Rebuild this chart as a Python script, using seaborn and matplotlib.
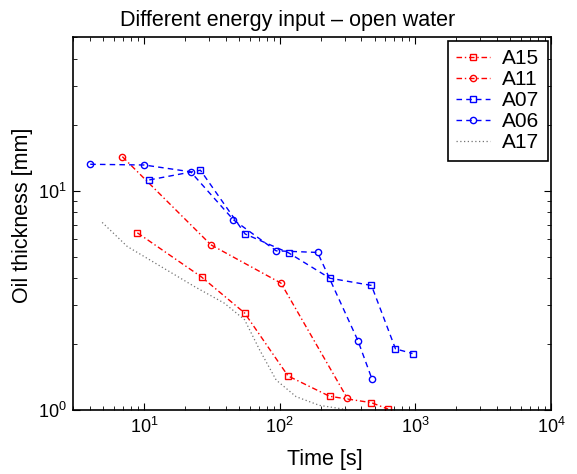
import numpy as np
import pandas as pd
import matplotlib
matplotlib.use("Agg")
import matplotlib.pyplot as plt
import seaborn as sns
from matplotlib.ticker import LogLocator

sns.set_style("ticks")
plt.rcParams['font.family'] = ['Liberation Sans', 'DejaVu Sans']
plt.rcParams['mathtext.default'] = 'regular'
plt.rcParams['text.color'] = 'black'
plt.rcParams['axes.labelcolor'] = 'black'
plt.rcParams['xtick.color'] = 'black'
plt.rcParams['ytick.color'] = 'black'

# Data
a15_t = [8.9, 26.5, 55, 115, 233, 474, 628]
a15_h = [6.43, 4.04, 2.77, 1.43, 1.155, 1.08, 1.01]
a11_t = [6.9, 31, 102, 315]
a11_h = [14.3, 5.67, 3.79, 1.13]
a07_t = [10.9, 26, 55.5, 116, 234, 474, 713, 952]
a07_h = [11.2, 12.4, 6.35, 5.21, 3.99, 3.70, 1.90, 1.81]
a06_t = [4.0, 10, 22, 45.5, 94, 190, 377, 479]
a06_h = [13.2, 13.1, 12.2, 7.37, 5.32, 5.23, 2.07, 1.38]
a17_t = [4.9, 7.5, 13.3, 23.4, 39, 55, 71, 94, 132, 196, 327]
a17_h = [7.17, 5.57, 4.51, 3.66, 3.07, 2.58, 1.88, 1.37, 1.15, 1.05, 1.0]

labels = ["A15", "A11", "A07", "A06", "A17"]
title = "Different energy input \u2013 open water"

fig = plt.figure(figsize=(5.77, 4.74), dpi=100)
ax = fig.add_axes([0.127, 0.135, 0.828, 0.786])

series = [
    (a15_t, a15_h, labels[0], "red", (0, (4, 2, 1, 2)), "s"),
    (a11_t, a11_h, labels[1], "red", (0, (4, 2, 1, 2)), "o"),
    (a07_t, a07_h, labels[2], "blue", (0, (4, 3)), "s"),
    (a06_t, a06_h, labels[3], "blue", (0, (4, 3)), "o"),
]
for t, h, lab, col, ls, mk in series:
    sns.lineplot(x=t, y=h, ax=ax, color=col, linestyle=ls, marker=mk,
                 markersize=4.5, markerfacecolor='none', markeredgecolor=col,
                 markeredgewidth=1.0, linewidth=1.0, label=lab, sort=False,
                 estimator=None)
sns.lineplot(x=a17_t, y=a17_h, ax=ax, color="0.45", linestyle=(0, (1, 2)),
             linewidth=0.9, label=labels[4], sort=False, estimator=None)

ax.set_xscale('log')
ax.set_yscale('log')
ax.set_xlim(3, 1e4)
ax.set_ylim(1, 50)
ax.xaxis.set_major_locator(LogLocator(base=10, numticks=10))
ax.yaxis.set_major_locator(LogLocator(base=10, numticks=10))
ax.tick_params(which='both', direction='in', top=True, right=True,
               labelsize=13, colors='black', labelcolor='black')
ax.tick_params(which='major', length=5, width=0.8, pad=5)
ax.tick_params(which='minor', length=3, width=0.6)
for sp in ax.spines.values():
    sp.set_linewidth(1.2)
    sp.set_color('black')

ax.set_xlabel("Time [s]", fontsize=15.5, color='black')
ax.xaxis.set_label_coords(0.527, -0.105)
ax.set_ylabel("Oil thickness [mm]", fontsize=15.5, color='black')
ax.yaxis.set_label_coords(-0.084, 0.523)
ax.set_title(title, fontsize=15.5, pad=8.5, x=0.448, color='black')

leg = ax.legend(loc='upper right', fontsize=15, frameon=True, fancybox=False,
                edgecolor='black', handlelength=1.6, borderpad=0.4,
                labelspacing=0.1, handletextpad=0.6, borderaxespad=0.15)
leg.get_frame().set_linewidth(1.2)
leg.get_frame().set_alpha(1)
for txt in leg.get_texts():
    txt.set_color('black')

fig.savefig("out.png", dpi=100)
